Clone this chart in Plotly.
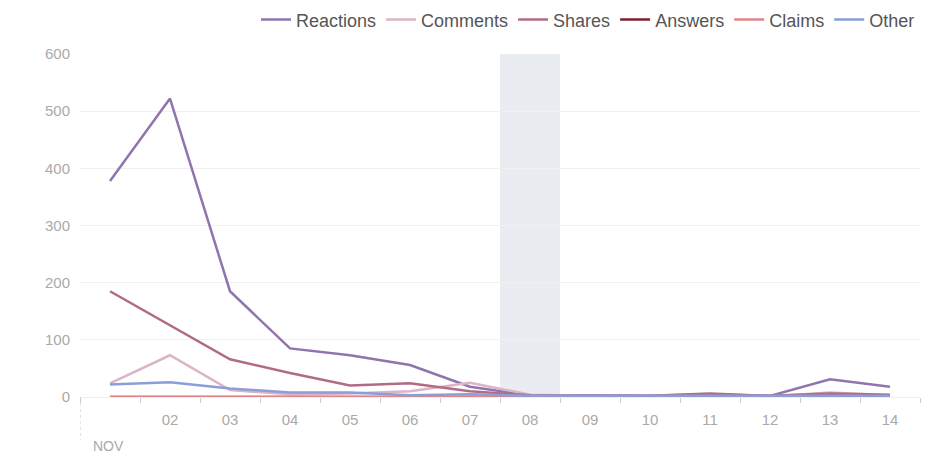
import plotly.graph_objects as go

days = list(range(1, 15))
tick_days = list(range(2, 15))
tick_labels = [f"{d:02d}" for d in tick_days]
month_label = "NOV"

reactions = [378, 522, 185, 85, 73, 56, 18, 3, 3, 2, 5, 2, 31, 18]
comments = [24, 73, 12, 5, 6, 10, 25, 4, 2, 2, 3, 1, 8, 3]
shares = [185, 125, 66, 42, 20, 24, 10, 3, 3, 2, 6, 2, 6, 4]
answers = [0] * 14
claims = [0] * 14
other = [22, 26, 15, 8, 8, 3, 5, 2, 2, 2, 2, 3, 2, 2]

series = [
    ("Reactions", reactions, "#8f74ad"),
    ("Comments", comments, "#dcb4c6"),
    ("Shares", shares, "#b26b87"),
    ("Answers", answers, "#7d1f2c"),
    ("Claims", claims, "#e0868a"),
    ("Other", other, "#8b9ed8"),
]

fig = go.Figure()
for name, vals, col in series:
    fig.add_trace(go.Scatter(x=days, y=vals, name=name, mode="lines",
                             line=dict(color=col, width=2.5), cliponaxis=False))

fig.add_vrect(x0=7.5, x1=8.5, y0=0, y1=1, fillcolor="#e9edf2", line_width=0, layer="below")
fig.add_shape(type="line", xref="x", yref="paper", x0=0.5, x1=0.5, y0=0, y1=-0.125,
              line=dict(color="#c8c8c8", width=1, dash="dot"))
fig.add_annotation(x=0.68, y=-0.113, xref="x", yref="paper", text=month_label, showarrow=False,
                   xanchor="left", yanchor="top", font=dict(size=14, color="#aaaaaa"))

fig.update_layout(
    width=925, height=455,
    margin=dict(l=72, r=13, t=46, b=66, autoexpand=False),
    paper_bgcolor="white", plot_bgcolor="white",
    font=dict(family="Liberation Sans, Arial, sans-serif", color="#aaaaaa", size=15),
    showlegend=True,
    legend=dict(orientation="h", x=1.0, xanchor="right", yref="container", y=0.974,
                yanchor="middle", font=dict(size=18, color="#555555"), itemwidth=30,
                tracegroupgap=0, bgcolor="rgba(0,0,0,0)"),
    xaxis=dict(range=[0.5, 14.5], tickvals=tick_days, ticktext=tick_labels,
               showgrid=False, zeroline=False, showline=True, linecolor="#eeeeee",
               ticks="outside", ticklen=9, tickcolor="rgba(0,0,0,0)",
               tickfont=dict(size=15, color="#aaaaaa"),
               minor=dict(tick0=0.5, dtick=1, ticks="outside", ticklen=5,
                          tickcolor="#cccccc", showgrid=False)),
    yaxis=dict(range=[0, 600], dtick=100, showgrid=True, gridcolor="#f0f0f0",
               zeroline=False, showline=False, ticks="outside", ticklen=6,
               tickcolor="rgba(0,0,0,0)", tickfont=dict(size=15, color="#aaaaaa")),
)
fig.write_html("out.html")
